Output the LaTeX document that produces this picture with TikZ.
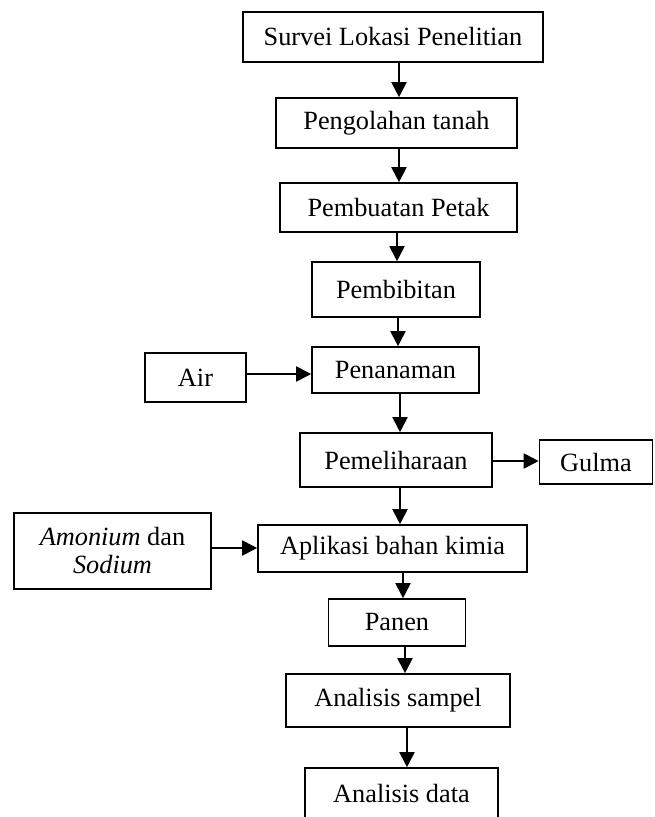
\documentclass[tikz,border=0pt]{standalone}
\usepackage{fontspec}
\setmainfont{Liberation Serif}
\usetikzlibrary{arrows.meta}
\begin{document}
\begin{tikzpicture}[x=1pt,y=-1pt,
  box/.style={draw,line width=1.6pt,inner sep=0pt,align=center,
    font=\fontsize{26.3}{28}\selectfont},
  arr/.style={line width=1.9pt,-{Triangle[length=15pt,width=15pt]}}]
\useasboundingbox (0,0) rectangle (654,817);
\node[box,minimum width=300pt,minimum height=50pt] (b1) at (393,37) {Survei Lokasi Penelitian};
\node[box,minimum width=241pt,minimum height=50pt] (b2) at (396.5,123) {Pengolahan tanah};
\node[box,minimum width=237pt,minimum height=49pt] (b3) at (398.5,207.5) {Pembuatan Petak};
\node[box,minimum width=168pt,minimum height=55pt] (b4) at (396,289.5) {Pembibitan};
\node[box,minimum width=167pt,minimum height=46pt] (b5) at (395.5,370) {Penanaman};
\node[box,minimum width=101pt,minimum height=49pt] (air) at (195.5,377.5) {Air};
\node[box,minimum width=192pt,minimum height=54pt] (b6) at (396,460) {Pemeliharaan};
\node[box,minimum width=113pt,minimum height=44pt] (gulma) at (596,462) {Gulma};
\node[box,minimum width=269pt,minimum height=47pt] (b7) at (392.5,548.5) {Aplikasi bahan kimia};
\node[box,minimum width=197pt,minimum height=76pt] (amon) at (112.5,551) {\textit{Amonium} dan\\\textit{Sodium}};
\node[box,minimum width=137pt,minimum height=47pt] (b8) at (397,622.5) {Panen};
\node[box,minimum width=224pt,minimum height=53pt] (b9) at (398,700.5) {Analisis sampel};
\node[box,minimum width=193pt,minimum height=50pt] (b10) at (401.5,793) {Analisis data};

\draw[arr] ([xshift=6pt]b1.south) -- ([xshift=2.5pt]b2.north);
\draw[arr] ([xshift=2.5pt]b2.south) -- ([xshift=0.5pt]b3.north);
\draw[arr] ([xshift=-1.5pt]b3.south) -- ([xshift=1pt]b4.north);
\draw[arr] ([xshift=2pt]b4.south) -- ([xshift=2.5pt]b5.north);
\draw[arr] ([xshift=4.5pt]b5.south) -- ([xshift=4pt]b6.north);
\draw[arr] ([xshift=4pt]b6.south) -- ([xshift=7.5pt]b7.north);
\draw[arr] ([xshift=10.5pt]b7.south) -- ([xshift=6pt]b8.north);
\draw[arr] ([xshift=8pt]b8.south) -- ([xshift=7pt]b9.north);
\draw[arr] ([xshift=9pt]b9.south) -- ([xshift=5.5pt]b10.north);
\draw[arr] ([yshift=3.5pt]air.east) -- ([yshift=-4pt]b5.west);
\draw[arr] ([yshift=-1pt]b6.east) -- ([yshift=1pt]gulma.west);
\draw[arr] ([yshift=3pt]amon.east) -- ([yshift=0.5pt]b7.west);
\end{tikzpicture}
\end{document}
